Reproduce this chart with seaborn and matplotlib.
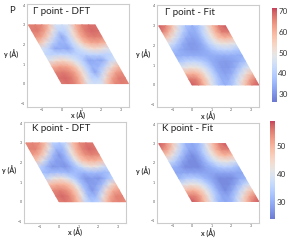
import numpy as np
import matplotlib
matplotlib.use("Agg")
import matplotlib.pyplot as plt
from matplotlib.colors import ListedColormap
import seaborn as sns

W, H = 291, 240
titles = ["\u0393 point - DFT", "\u0393 point - Fit", "K point - DFT", "K point - Fit"]
x_ticks = [-1, 0, 1, 2, 3]
y_ticks = [-1, 0, 1, 2, 3, 4]
top_cbar_ticks = [30, 40, 50, 60, 70]
bottom_cbar_ticks = [30, 40, 50]
top_range = (26.4, 71.3)
bottom_range = (24.0, 58.9)

# lattice vectors of the cell, in angstrom
a1 = (3.4, 0.0)
a2 = (-1.7, 3.0)
cell_u = np.linspace(0, 1, 11)
cell_v = np.linspace(0, 1, 11)

gamma_dft = [
    [67, 68, 66, 59, 46, 44, 46, 59, 66, 67, 66],
    [68, 69, 67, 62, 51, 41, 41, 51, 62, 67, 67],
    [66, 67, 66, 62, 53, 42, 33, 42, 53, 62, 65],
    [59, 62, 62, 59, 51, 42, 35, 35, 42, 51, 59],
    [46, 51, 53, 51, 46, 41, 33, 34, 33, 41, 46],
    [42, 41, 42, 42, 41, 41, 41, 42, 42, 41, 42],
    [46, 41, 33, 34, 33, 41, 46, 51, 53, 51, 46],
    [59, 51, 42, 35, 35, 42, 51, 59, 62, 62, 59],
    [65, 62, 53, 42, 33, 42, 53, 62, 66, 67, 66],
    [67, 67, 62, 51, 41, 41, 51, 62, 67, 69, 68],
    [66, 67, 66, 59, 46, 44, 46, 59, 66, 68, 68],
]
gamma_fit = [
    [70, 67, 58, 47, 38, 34, 38, 47, 58, 67, 70],
    [67, 67, 60, 50, 41, 34, 34, 41, 50, 60, 67],
    [58, 60, 58, 50, 42, 34, 32, 34, 42, 50, 58],
    [47, 50, 50, 47, 41, 34, 31, 31, 34, 41, 47],
    [38, 41, 42, 41, 38, 34, 32, 31, 32, 34, 38],
    [34, 34, 34, 34, 34, 34, 34, 34, 34, 34, 34],
    [38, 34, 32, 31, 32, 34, 38, 41, 42, 41, 38],
    [47, 41, 34, 31, 31, 34, 41, 47, 50, 50, 47],
    [58, 50, 42, 34, 32, 34, 42, 50, 58, 60, 58],
    [67, 60, 50, 41, 34, 34, 41, 50, 60, 67, 67],
    [70, 67, 58, 47, 38, 34, 38, 47, 58, 67, 70],
]
k_dft = [
    [55, 56, 54, 48, 36, 33, 36, 48, 54, 55, 54],
    [56, 57, 55, 50, 41, 31, 31, 41, 50, 55, 55],
    [54, 55, 54, 50, 43, 32, 27, 32, 43, 50, 53],
    [48, 50, 50, 48, 41, 32, 28, 28, 32, 41, 48],
    [36, 41, 43, 41, 36, 31, 27, 28, 27, 31, 36],
    [32, 31, 32, 32, 31, 32, 31, 32, 32, 31, 32],
    [36, 31, 27, 28, 27, 31, 36, 41, 43, 41, 36],
    [48, 41, 32, 28, 28, 32, 41, 48, 50, 50, 48],
    [53, 50, 43, 32, 27, 32, 43, 50, 54, 55, 54],
    [55, 55, 50, 41, 31, 31, 41, 50, 55, 57, 56],
    [54, 55, 54, 48, 36, 33, 36, 48, 54, 56, 56],
]
k_fit = [
    [58, 55, 48, 39, 31, 29, 31, 39, 48, 55, 58],
    [55, 55, 50, 42, 34, 29, 29, 34, 42, 50, 55],
    [48, 50, 48, 42, 35, 29, 26, 29, 35, 42, 48],
    [39, 42, 42, 39, 34, 29, 26, 26, 29, 34, 39],
    [31, 34, 35, 34, 31, 29, 26, 26, 26, 29, 31],
    [29, 29, 29, 29, 29, 29, 29, 29, 29, 29, 29],
    [31, 29, 26, 26, 26, 29, 31, 34, 35, 34, 31],
    [39, 34, 29, 26, 26, 29, 34, 39, 42, 42, 39],
    [48, 42, 35, 29, 26, 29, 35, 42, 48, 50, 48],
    [55, 50, 42, 34, 29, 29, 34, 42, 50, 55, 55],
    [58, 55, 48, 39, 31, 29, 31, 39, 48, 55, 58],
]
panel_data = [gamma_dft, gamma_fit, k_dft, k_fit]

sns.set_theme(style="white")
plt.rcParams["font.family"] = ["Lato", "DejaVu Sans"]
base = np.array(sns.color_palette("coolwarm", 256))
cmap = ListedColormap(0.75 * base + 0.25)


def box(x0, y0, x1, y1):
    """Pixel box (top-left origin) to figure fractions."""
    return [x0 / W, 1 - y1 / H, (x1 - x0) / W, (y1 - y0) / H]


fig = plt.figure(figsize=(W / 100, H / 100), dpi=100, facecolor="white")

# layout: axes box, xlim, ylim, value range, title pixel, xlabel pixel, ylabel pixel
layout = [
    ((26.7, 4.3, 129, 106.7), (-1.79, 3.43), (-1.18, 4.05), top_range, (32.7, 11.7), (78, 115.5), (11, 54)),
    ((157, 5, 259.3, 106.7), (-1.79, 3.43), (-1.1, 4.05), top_range, (165, 12.7), (208, 116.7), (143, 54)),
    ((24, 122.3, 126.3, 223.3), (-1.79, 3.43), (-1.1, 4.05), bottom_range, (31.7, 128.7), (75, 232), (9, 170)),
    ((157, 123.3, 259.3, 222.7), (-1.79, 3.43), (-1.1, 4.05), bottom_range, (161.7, 128.7), (208, 233), (143, 171)),
]

U, V = np.meshgrid(cell_u, cell_v)
X = U * a1[0] + V * a2[0]
Y = U * a1[1] + V * a2[1]

meshes = []
for title, values, (bx, xl, yl, vr, tp, xp, yp) in zip(titles, panel_data, layout):
    ax = fig.add_axes(box(*bx))
    m = ax.pcolormesh(X, Y, np.array(values, dtype=float), cmap=cmap,
                      vmin=vr[0], vmax=vr[1], shading="gouraud", rasterized=True)
    meshes.append(m)
    ax.set_xlim(*xl)
    ax.set_ylim(*yl)
    ax.set_xticks(x_ticks)
    ax.set_yticks(y_ticks)
    ax.tick_params(labelsize=2.6, length=0, pad=1.2, colors="#555555")
    for s in ax.spines.values():
        s.set_color("#cccccc")
        s.set_linewidth(0.8)
    ax.set_xlabel("x (\u00c5)", fontsize=5, fontweight="bold", color="#333333")
    ax.set_ylabel("y (\u00c5)", fontsize=5, fontweight="bold", color="#333333")
    ax.xaxis.set_label_coords((xp[0] - bx[0]) / (bx[2] - bx[0]), (bx[3] - xp[1]) / (bx[3] - bx[1]))
    ax.yaxis.set_label_coords((yp[0] - bx[0]) / (bx[2] - bx[0]), (bx[3] - yp[1]) / (bx[3] - bx[1]))
    ax.xaxis.label.set_verticalalignment("center")
    ax.yaxis.label.set_verticalalignment("center")
    ax.yaxis.label.set_rotation(0)
    ax.yaxis.label.set_horizontalalignment("center")
    ax.text(tp[0] / W, 1 - tp[1] / H, title, transform=fig.transFigure, fontsize=7.0,
            color="#222222", va="center", ha="left")

fig.text(11.5 / W, 1 - 10.5 / H, "P", fontsize=6.8, color="#222222", va="center", ha="center")

for mesh, bx, ticks in [(meshes[1], (272.3, 8.3, 277, 101.7), top_cbar_ticks),
                        (meshes[3], (270, 121, 275.3, 219.3), bottom_cbar_ticks)]:
    cax = fig.add_axes(box(*bx))
    cb = fig.colorbar(mesh, cax=cax)
    cb.set_ticks(ticks)
    cb.ax.tick_params(labelsize=5.8, length=0, pad=1.0, colors="#333333")
    cb.outline.set_visible(False)

fig.savefig("out.png", dpi=100)
